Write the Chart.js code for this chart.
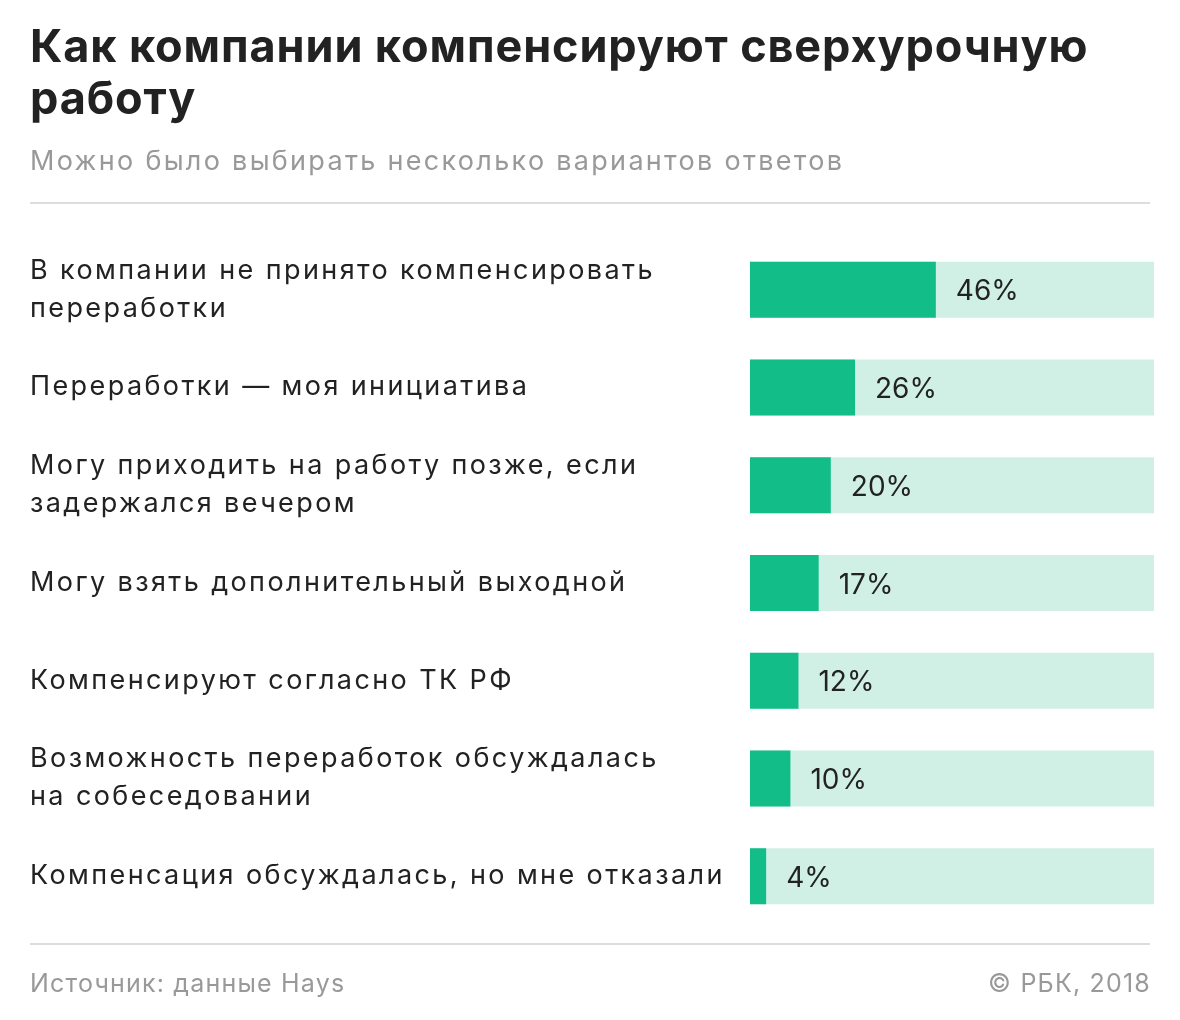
<!DOCTYPE html>
<html>
<head>
<meta charset="utf-8">
<script src="https://cdn.jsdelivr.net/npm/chart.js@4"></script>
<style>
  html, body { margin: 0; padding: 0; background: #fff; }
  #wrap { width: 1180px; height: 1020px; position: relative; }
</style>
</head>
<body>
<div id="wrap"><canvas id="myChart" width="1180" height="1020"></canvas></div>
<script>
let answers = [
  ['В компании не принято компенсировать', 'переработки'],
  ['Переработки — моя инициатива'],
  ['Могу приходить на работу позже, если', 'задержался вечером'],
  ['Могу взять дополнительный выходной'],
  ['Компенсируют согласно ТК РФ'],
  ['Возможность переработок обсуждалась', 'на собеседовании'],
  ['Компенсация обсуждалась, но мне отказали']
]
let shares = [46, 26, 20, 17, 12, 10, 4]
let fullScale = [100, 100, 100, 100, 100, 100, 100]

let titleLines = ['Как компании компенсируют сверхурочную', 'работу']
let subtitle = 'Можно было выбирать несколько вариантов ответов'
let source = 'Источник: данные Hays'
let copyright = '© РБК, 2018'

const FONT = 'Inter, Roboto, sans-serif'

// header, rules, footer, category labels and value labels
const decor = {
  id: 'decor',
  beforeDraw(chart) {
    const c = chart.ctx
    c.save()
    c.fillStyle = '#fff'
    c.fillRect(0, 0, chart.width, chart.height)
    c.textBaseline = 'alphabetic'
    c.textAlign = 'left'
    c.fillStyle = '#222'
    c.font = 'bold 45px ' + FONT
    c.letterSpacing = '0.9px'
    c.fillText(titleLines[0], 30, 62)
    c.fillText(titleLines[1], 30, 114)
    c.fillStyle = '#999'
    c.font = '27px ' + FONT
    c.letterSpacing = '2.3px'
    c.fillText(subtitle, 30, 170)
    c.font = '25px ' + FONT
    c.letterSpacing = '1.2px'
    c.fillText(source, 30, 992)
    c.textAlign = 'right'
    c.fillText(copyright, 1151, 992)
    c.letterSpacing = '0px'
    c.fillStyle = '#dddddd'
    c.fillRect(30, 202, 1120, 2)
    c.fillRect(30, 943, 1120, 2)

    // category labels, placed on the y scale
    const y = chart.scales.y
    c.textAlign = 'left'
    c.fillStyle = '#222'
    c.font = '27px ' + FONT
    c.letterSpacing = '2.4px'
    answers.forEach((lines, i) => {
      const yc = y.getPixelForValue(i) - 2
      lines.forEach((t, k) => {
        const mid = yc + (k - (lines.length - 1) / 2) * 38
        c.fillText(t, 30, mid + 9.8)
      })
    })
    c.restore()
  },
  afterDatasetsDraw(chart) {
    const c = chart.ctx
    const meta = chart.getDatasetMeta(1)
    c.save()
    c.fillStyle = '#222'
    c.font = '28px ' + FONT
    c.letterSpacing = '0px'
    c.textAlign = 'left'
    c.textBaseline = 'alphabetic'
    meta.data.forEach((bar, i) => {
      c.fillText(shares[i] + '%', bar.x + 20, bar.y + 10.5)
    })
    c.restore()
  }
}

var ctx = document.getElementById('myChart').getContext('2d')
var chart = new Chart(ctx, {
  type: 'bar',
  data: {
    labels: answers,
    datasets: [
      {
        label: 'фон',
        data: fullScale,
        backgroundColor: '#d0f0e6',
        grouped: false,
        order: 2,
        categoryPercentage: 1,
        barPercentage: 0.573
      },
      {
        label: 'Доля',
        data: shares,
        backgroundColor: '#13bd88',
        grouped: false,
        order: 1,
        categoryPercentage: 1,
        barPercentage: 0.573
      }
    ]
  },
  options: {
    indexAxis: 'y',
    responsive: false,
    animation: false,
    layout: { padding: { left: 30, right: 26, top: 241, bottom: 95 } },
    plugins: { legend: { display: false }, tooltip: { enabled: false } },
    scales: {
      x: { display: false, min: 0, max: 100 },
      y: {
        grid: { display: false },
        border: { display: false },
        afterFit(scale) { scale.width = 720 },
        ticks: { display: false }
      }
    }
  },
  plugins: [decor]
})
</script>
</body>
</html>
